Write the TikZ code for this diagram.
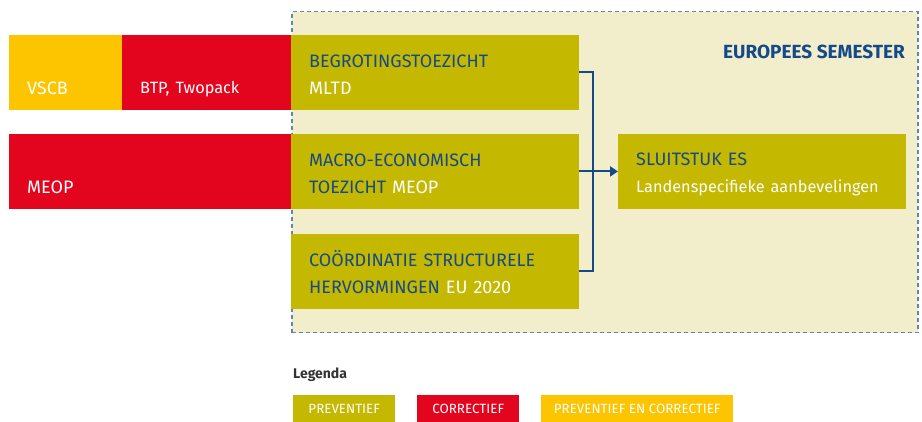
\documentclass[tikz,border=0pt]{standalone}
\usepackage{fontspec}
\setmainfont{Fira Sans}
\usetikzlibrary{arrows.meta}

\definecolor{esolive}{HTML}{C4B800}
\definecolor{esred}{HTML}{E3051E}
\definecolor{esyellow}{HTML}{FDC400}
\definecolor{esbeige}{HTML}{F2EDCB}
\definecolor{esblue}{HTML}{154A8A}
\definecolor{esframe}{HTML}{5E86B3}
\definecolor{esgrey}{HTML}{333333}

\newcommand{\mixedsize}{\fontsize{16.3}{27}\selectfont}
\newcommand{\esfirst}{\rule{0pt}{19pt}}
\newcommand{\eslast}{\rule[-2.5pt]{0pt}{2.5pt}}

\begin{document}
\begin{tikzpicture}[x=1pt, y=-1pt,
  every node/.style={font=\fontsize{18}{27}\selectfont},
  box/.style={rectangle, fill=#1, anchor=north west, inner sep=0pt,
    inner xsep=18pt, align=left, minimum height=74.5pt, text=white},
  legbox/.style={rectangle, fill=#1, anchor=north west, inner sep=0pt,
    minimum height=27pt, text=white, font=\fontsize{13.4}{15}\selectfont},
  conn/.style={draw=esblue, line width=2pt}]

\useasboundingbox (0,0) rectangle (922,422);

% ---- europees semester ----
\node[draw=esframe, fill=esbeige, line width=1.5pt, dash pattern=on 4pt off 3pt,
  anchor=north west, minimum width=626pt, minimum height=321pt, inner sep=0pt]
  (es) at (291,11) {};
\node[anchor=east, inner sep=0pt, text=esblue, font=\bfseries\fontsize{19}{20}\selectfont]
  (estitle) at (905,52) {EUROPEES SEMESTER};

% ---- row 1 ----
\node[box=esyellow, text width=77pt] (vscb) at (9,35) {\esfirst\\VSCB\eslast};
\node[box=esred, text width=133pt] (btp) at (122,35) {\esfirst\\\mixedsize BTP, Twopack\eslast};
\node[box=esolive, text width=252pt] (begr) at (291,35)
  {\esfirst\textcolor{esblue}{BEGROTINGSTOEZICHT}\\MLTD\eslast};

% ---- row 2 ----
\node[box=esred, text width=246pt] (meop) at (9,134) {\esfirst\\MEOP\eslast};
\node[box=esolive, text width=252pt] (macro) at (291,134)
  {\esfirst\textcolor{esblue}{MACRO-ECONOMISCH}\\\textcolor{esblue}{TOEZICHT} MEOP\eslast};

% ---- row 3 ----
\node[box=esolive, text width=252pt] (coord) at (291,234)
  {\esfirst\textcolor{esblue}{COÖRDINATIE STRUCTURELE}\\\textcolor{esblue}{HERVORMINGEN} EU 2020\eslast};

% ---- sluitstuk ----
\node[box=esolive, text width=252pt] (sluit) at (618,134)
  {\esfirst\textcolor{esblue}{SLUITSTUK ES}\\\mixedsize Landenspecifieke aanbevelingen\eslast};

\draw[conn] (begr.east) -- ++(14,0) |- (coord.east);
\draw[conn, -{Triangle[length=8pt, width=10pt]}] (macro.east) -- (sluit.west);

% ---- legenda ----
\node[anchor=west, inner sep=0pt, text=esgrey, font=\bfseries\fontsize{14}{16}\selectfont]
  (legenda) at (293,375) {Legenda};
\node[legbox=esolive, minimum width=102pt] (lprev) at (293,395) {PREVENTIEF};
\node[legbox=esred, minimum width=102pt] (lcorr) at (417,395) {CORRECTIEF};
\node[legbox=esyellow, minimum width=192pt] (lboth) at (541,395) {PREVENTIEF EN CORRECTIEF};

\end{tikzpicture}
\end{document}
